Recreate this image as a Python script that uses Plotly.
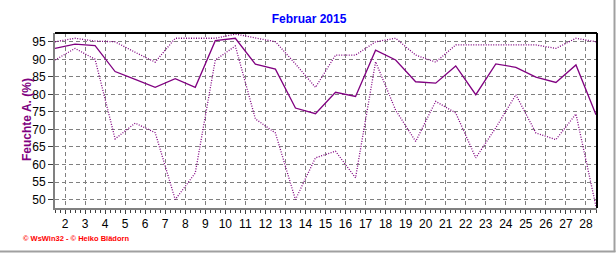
import plotly.graph_objects as go

# Daily humidity values, February 2015 (plotted at noon of each day)
days = list(range(1, 29))
hum_mean = [93.1, 94.3, 93.9, 86.5, 84.3, 82.0, 84.5, 82.0, 95.3, 96.0,
            88.6, 87.2, 76.1, 74.5, 80.6, 79.4, 92.6, 89.8, 83.6, 83.2,
            88.1, 79.9, 88.7, 87.7, 84.9, 83.4, 88.4, 74.2]
hum_max = [95.0, 96.0, 95.2, 95.0, 92.0, 89.2, 96.0, 96.0, 96.0, 97.2,
           96.2, 95.0, 88.7, 82.0, 91.2, 91.2, 95.0, 96.0, 91.2, 89.2,
           94.1, 94.1, 94.1, 94.1, 94.1, 93.1, 96.0, 95.0]
hum_min = [89.8, 93.1, 90.0, 67.3, 71.8, 69.1, 50.0, 57.6, 89.8, 93.8,
           73.0, 69.0, 50.0, 61.9, 63.8, 56.2, 89.3, 75.5, 66.6, 78.0,
           74.7, 61.9, 70.5, 79.9, 69.0, 67.1, 74.4, 48.0]
x_tick_vals = list(range(2, 29))
y_tick_vals = list(range(50, 100, 5))

x = [d + 0.5 for d in days]
purple = "#800080"

fig = go.Figure()
fig.add_trace(go.Scatter(x=x, y=hum_max, mode="lines",
                         line=dict(color=purple, width=1.3, dash="1px,1.5px"),
                         hoverinfo="skip"))
fig.add_trace(go.Scatter(x=x, y=hum_min, mode="lines",
                         line=dict(color=purple, width=1.3, dash="1px,1.5px"),
                         hoverinfo="skip"))
fig.add_trace(go.Scatter(x=x, y=hum_mean, mode="lines",
                         line=dict(color=purple, width=1.3),
                         hoverinfo="skip"))

W, H = 616, 253
L, R, T, B = 55, 19, 33, 45
pw, ph = W - L - R, H - T - B

def px_x(p):
    return (p - L) / pw

def px_y(p):
    return (H - B - p) / ph

fig.update_layout(
    width=W, height=H,
    margin=dict(l=L, r=R, t=T, b=B, pad=0),
    paper_bgcolor="white", plot_bgcolor="white",
    showlegend=False,
    font=dict(family="Liberation Sans, Arial, sans-serif", size=12, color="black"),
    title=dict(text="<b>Februar 2015</b>", xref="container", yref="container",
               x=309 / W, y=1 - 19 / H, xanchor="center", yanchor="middle",
               font=dict(size=12, color="#0000ff")),
    xaxis=dict(range=[1.5, 28.55], tickmode="array", tickvals=x_tick_vals,
               ticktext=[str(v) for v in x_tick_vals],
               showgrid=True, gridcolor="#808080", griddash="4px,3px", gridwidth=1,
               showline=True, linecolor="#808080", linewidth=2,
               ticks="outside", ticklen=4, tickcolor="#404040", tickwidth=1,
               minor=dict(dtick=0.25, tick0=0, ticks="outside", ticklen=3,
                          tickcolor="#404040", showgrid=False),
               zeroline=False, fixedrange=True),
    yaxis=dict(range=[47.6, 97.5], tickmode="array", tickvals=y_tick_vals,
               showgrid=True, gridcolor="#808080", griddash="4px,3px", gridwidth=1,
               showline=True, linecolor="#808080", linewidth=2,
               ticks="outside", ticklen=5, tickcolor="#404040", tickwidth=1,
               zeroline=False, fixedrange=True),
)

# top and right black frame lines of the plot area
fig.add_shape(type="line", xref="paper", yref="paper", x0=0, x1=1, y0=1, y1=1,
              line=dict(color="black", width=2))
fig.add_shape(type="line", xref="paper", yref="paper", x0=1, x1=1, y0=0, y1=1,
              line=dict(color="black", width=2))
# outer gray frame (right and bottom)
fig.add_shape(type="line", xref="paper", yref="paper",
              x0=px_x(614.5), x1=px_x(614.5), y0=px_y(0), y1=px_y(252),
              line=dict(color="#a0a0a0", width=2))
fig.add_shape(type="line", xref="paper", yref="paper",
              x0=px_x(0), x1=px_x(615.5), y0=px_y(251.5), y1=px_y(251.5),
              line=dict(color="#a0a0a0", width=2))

fig.add_annotation(text="<b>Feuchte A. (%)</b>", xref="paper", yref="paper",
                   x=px_x(27), y=px_y(120), xanchor="center", yanchor="middle",
                   textangle=-90, showarrow=False,
                   font=dict(size=12, color=purple))
fig.add_annotation(text="<b>© WsWin32 - © Heiko Blädorn</b>", xref="paper", yref="paper",
                   x=px_x(21), y=px_y(238.5), xanchor="left", yanchor="middle",
                   showarrow=False,
                   font=dict(size=7.5, color="#ff0000"))

fig.write_html("out.html")
